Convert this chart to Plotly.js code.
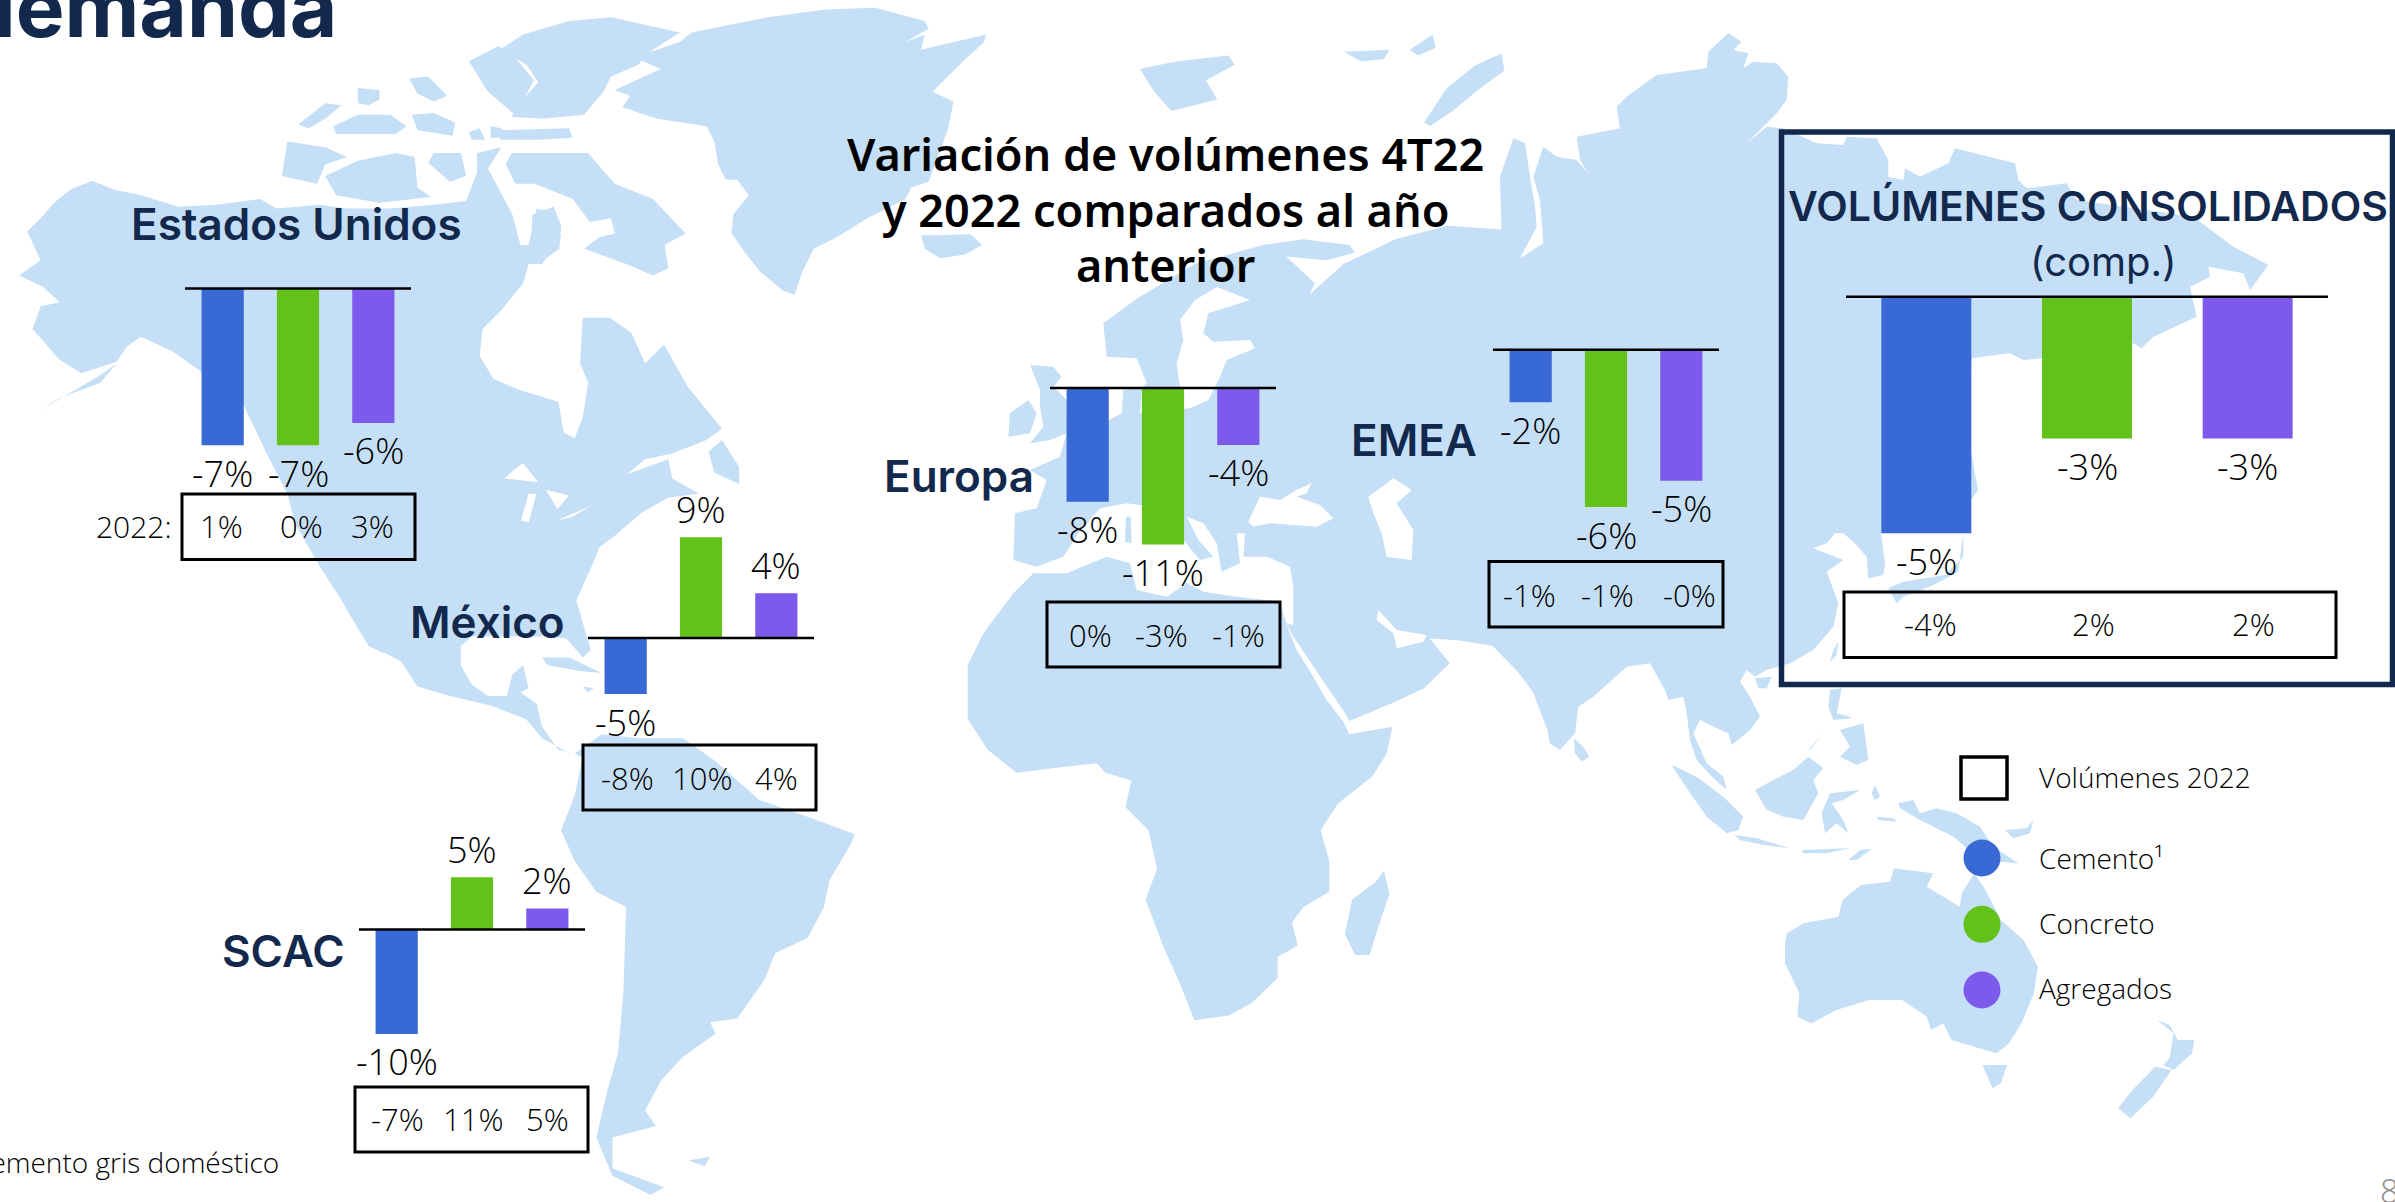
<!DOCTYPE html>
<html><head><meta charset="utf-8">
<script src="https://cdn.plot.ly/plotly-3.0.1.min.js"></script>
<style>html,body{margin:0;padding:0;background:#fff;overflow:hidden}#c{width:2395px;height:1202px}</style>
</head><body><div id="c"></div>
<script>
// ---------- data ----------
const categories = ["Cemento", "Concreto", "Agregados"];
const regionNames = ["Estados Unidos", "México", "SCAC", "Europa", "EMEA"];
const usValues = [-7, -7, -6];
const mexicoValues = [-5, 9, 4];
const scacValues = [-10, 5, 2];
const europeValues = [-8, -11, -4];
const emeaValues = [-2, -6, -5];
const consolidatedValues = [-5, -3, -3];
const us2022 = ["1%", "0%", "3%"];
const mexico2022 = ["-8%", "10%", "4%"];
const scac2022 = ["-7%", "11%", "5%"];
const europe2022 = ["0%", "-3%", "-1%"];
const emea2022 = ["-1%", "-1%", "-0%"];
const consolidated2022 = ["-4%", "2%", "2%"];

// ---------- styles and placement (page pixels) ----------
const W = 2395, H = 1202;
const BLUE = "#3869D4", GREEN = "#62C21A", PURPLE = "#7D5AEC", NAVY = "#12284C", LAND = "#C5DFF6";
const barColors = [BLUE, GREEN, PURPLE];
const LIGHT = "Open Sans", HEAD = "Inter";
const panels = [
  {v: usValues, t: us2022, name: regionNames[0], x0: 185, x1: 411, base: 288.5, k: 22.4, box: [182,494,415,559.5], tx: [221,301,372], ty: 526, nx: 296, ny: 224},
  {v: mexicoValues, t: mexico2022, name: regionNames[1], x0: 588, x1: 814, base: 638, k: 11.2, box: [583,745,816,810], tx: [627,701.5,776], ty: 778, nx: 487, ny: 622},
  {v: scacValues, t: scac2022, name: regionNames[2], x0: 359, x1: 585, base: 929.4, k: 10.45, box: [355,1087,588,1152], tx: [397,473,547.5], ty: 1119, nx: 283.5, ny: 951},
  {v: europeValues, t: europe2022, name: regionNames[3], x0: 1050, x1: 1276, base: 388, k: 14.22, box: [1047,602,1280,667], tx: [1090,1161,1238], ty: 634.5, nx: 959, ny: 476},
  {v: emeaValues, t: emea2022, name: regionNames[4], x0: 1493, x1: 1719, base: 349.8, k: 26.2, box: [1489,561.4,1723,627], tx: [1529,1607,1689], ty: 595, nx: 1414, ny: 440},
  {v: consolidatedValues, t: consolidated2022, name: null, x0: 1846, x1: 2328, base: 296.7, k: 47.3, box: [1844,592,2336,657.6], tx: [1930,2093,2253], ty: 624}
];

// ---------- background map outline, traced by eye; each group is [left, top, scaleX, scaleY, points] ----------
const A=[0,0,.5421,.3827],B=[0,600,.5421,.3839],C=[850,0,.574,.3827],E=[850,600,.574,.3839],F=[1750,700,.4113,.3333],
      G=[1500,0,1/3,1/3],H_=[1900,0,1/3,1/3],I=[1550,500,1/3,1/3],J=[500,0,.3827,.3827],K=[950,300,1/3,1/3],P=[0,0,1,1];
function seg(v,p){const o=[];for(let i=0;i<p.length;i+=2)o.push([v[0]+p[i]*v[2],v[1]+p[i+1]*v[3]]);return o;}
function poly(){const o=[];for(let i=0;i<arguments.length;i+=2)o.push(...seg(arguments[i],arguments[i+1]));return o;}
const land = [
 // North America
 poly(A,[50,605,75,570,100,530,130,495,170,472,210,495,260,510,330,540,400,535,480,520,510,545,590,535,640,545,720,545,800,535,860,525,880,450,880,400,925,385,900,440,930,520,945,560,960,640,975,640,990,545,1025,560,1035,620,1000,690,975,690,965,740,925,810,890,860,885,930,910,990,960,1020,1030,1050,1040,1130,1060,1145,1075,1090,1085,1000,1070,950,1075,830,1125,830,1165,870,1190,950,1225,900],
      J,[490,1010,580,1120,540,1150,450,1185,380,1200,330,1240,440,1200,450,1250,520,1290,440,1300,370,1340,300,1400,260,1430,235,1490,200,1568],
      B,[1063,0,1075,60,1090,130,1075,150,1045,100,1010,95,950,95,870,95,850,120,850,170,870,220,900,250,935,250,945,195,965,170,975,230,960,240,990,270,1000,330,1030,390,1060,400,1045,395,1000,360,970,310,905,275,830,250,770,225,740,160,700,130,660,60,630,0],
      A,[590,1480,545,1370,530,1290,490,1180,450,1060,400,1000,320,920,260,880,235,905,215,945,150,975,110,940,60,860,75,800,110,790,80,750,35,720,75,680]),
 poly(A,[215,950,185,1000,110,1040,70,1075,180,985]),
 poly(B,[630,0,660,0,690,90,710,140,680,120,650,50]),
 // Canadian Arctic
 poly(A,[520,460,530,370,600,385,640,410,600,430,585,480,550,470]),
 poly(A,[600,460,660,420,730,400,765,410,770,490,795,515,700,530,620,510]),
 poly(A,[790,425,800,400,850,400,860,460,830,475]),
 poly(J,[15,430,30,400,230,400,300,480,400,520,485,610,430,640,440,700,400,720,330,690,220,650,260,620,300,610,290,570,235,580,190,520,90,480,40,480]),
 poly(J,[85,560,140,540,160,590,155,650,100,690,80,640]),
 poly(A,[550,325,600,270,630,275,600,310,570,335]),
 poly(A,[615,330,660,300,720,300,750,330,730,350,620,350]),
 poly(A,[660,230,700,235,700,260,680,275,660,270]),
 poly(A,[755,205,790,200,825,250,800,265,770,245]),
 poly(A,[760,300,800,295,840,320,835,355,770,340]),
 poly(A,[865,345,885,335,895,365,870,365]),
 poly(J,[0,130,60,90,180,55,290,45,470,85,400,130,360,170,290,200,270,240,220,300,110,310,30,305,60,260,100,215,70,170]),
 poly(A,[865,160,920,120,950,150,985,210,950,300,900,240]),
 poly(J,[0,340,180,335,190,360,100,365,0,365]),
 poly(A,[905,330,925,335,925,360,905,360]),
 poly(J,[545,1180,580,1150,625,1220,625,1265,560,1235]),
 // Greenland, Iceland, northern islands
 poly(J,[300,235,420,180,350,150,470,110,500,85,700,45,850,25,980,20,1110,55,1120,75,1060,110,1110,90,1100,130,1270,90,1265,110,1200,170,1130,240,1185,265,1170,340,1140,420,1120,475,1075,490,1060,520,960,570,880,620,820,650,790,710,770,770,740,760,680,710,640,660,605,610,610,560,650,510,620,470,590,470,570,430,560,370,540,330,410,310,320,280,340,250]),
 poly(J,[1100,615,1150,615,1230,612,1260,640,1215,665,1150,675,1110,650]),
 poly(C,[505,180,570,160,660,145,670,170,620,210,640,260,560,290,530,240]),
 poly(C,[1000,320,1040,230,1090,170,1135,140,1140,185,1090,240,1050,290,1010,330]),
 poly(C,[860,135,940,130,930,155,890,160]),
 poly(C,[975,130,1015,90,1020,125,990,145]),
 // Eurasia
 poly(C,[441,845,500,780,600,690,720,640,790,625,870,640,880,660,830,680,760,670,810,740,800,770,860,690,950,625,1040,590,1135,600],
      G,[0,530,40,415,75,430,90,530,105,620,110,680,60,775,130,730,120,600,100,530,130,440,170,470,230,480,265,520,240,480,230,410,360,385,350,320,380,290,470,225,620,205,625,155,685,100,725,125,700,150,745,160,730,205,760,185,830,190,865,230,860,300,830,340,795,375,740,430,800,380,850,385,950,430,1030,435,1040,410,1130,415,1165,480,1165,530,1210,540,1215,505,1260,530],
      H_,[145,490,165,445,345,490,355,540,380,565,500,550,530,600,880,650,1000,740,1105,795,1050,870,1030,820,925,800,930,830,870,860,890,950,760,1010,725,1045,700,1030,420,1075,370,1080,330,1060,215,1075],
      P,[1969,440,1978,490,1971,500,1940,532],
      I,[993,95,1005,190,1000,225,955,235,950,170,915,130,880,100,855,100,830,130,790,145,880,180,830,215,865,310,850,380,790,450,720,490,650,510,615,530,590,510,570,545,600,590,630,650,600,690,545,735,535,700,490,680,450,660,430,700,470,790,520,830,530,870,490,835,440,780,420,720,410,640,400,590,355,600,345,570,300,490,230,500,130,590,85,620,75,700,30,750,0,730],
      E,[1215,340,1190,240,1165,190,1120,120,1060,105,1010,100,1045,165,1000,230,950,265,870,315,860,290,815,190,770,90,760,60],
      K,[1030,975,1030,860,1020,800,950,770,880,770,885,700,860,700,870,790,815,815,800,730,760,670,710,650,745,720,790,770,750,780,700,720,610,620,530,610,450,625,385,700,340,770,260,800,190,780,195,640,260,625,290,540,240,510,330,470,350,400,440,380,515,340,520,270,575,265,590,250,560,175,470,170,460,70]),
 // Africa and islands
 poly(K,[250,820,350,820,470,770,540,790,560,870,650,890,710,850,760,875,860,890,990,905,1010,975,1040,1050,1090,1130,1130,1200,1180,1265],
      E,[870,350,945,330,935,400,910,460,850,530,820,600,835,680,835,760,790,800,770,840,780,900,745,930,745,985,700,1050,660,1082,600,1095,575,1000,545,900,515,780,535,700,520,600,480,540,490,470,445,450,430,425,370,435,290,450,240,390,205,310,205,170],
      K,[100,1000,190,880]),
 poly(E,[930,705,940,765,925,830,905,925,880,925,862,870,875,780,915,735]),
 poly(I,[72,715,100,740,118,770,95,785,75,760]),
 poly(K,[240,195,310,200,335,230,310,260,350,300,351,400,300,420,240,430,280,380,270,320,270,270]),
 poly(K,[180,340,235,300,260,340,240,400,175,410]),
 poly(K,[528,650,542,650,545,730,525,725]),
 // Caribbean and South America
 poly(B,[1000,150,1050,150,1110,190,1070,185,1010,170]),
 poly(B,[1075,225,1095,230,1085,240]),
 poly(B,[1060,400,1075,385,1110,350,1180,360,1260,360,1320,420,1400,520,1500,570,1577,610,1568,640,1530,730,1520,800,1490,880,1430,920,1410,990,1360,1090,1310,1100,1320,1130,1260,1190,1220,1250,1190,1330,1210,1370,1130,1400,1130,1480,1225,1530,1200,1550,1130,1500,1100,1400,1120,1280,1140,1180,1150,1020,1155,800,1100,760,1060,680,1035,600,1060,510,1075,410]),
 poly(B,[1270,1460,1310,1450,1300,1475]),
 // Asia-Pacific islands
 poly(I,[1240,95,1240,170,1185,225,1060,245,1015,265,1040,310,1060,290,1150,255,1225,215]),
 poly(I,[850,450,865,425,860,465,840,485]),
 poly(I,[615,535,665,530,650,565,625,565]),
 poly(I,[840,570,875,565,860,640,900,650,905,655,850,660,835,620]),
 poly(I,[870,690,940,670,955,780,920,795,870,770,900,740]),
 poly(I,[775,750,825,695,780,750]),
 poly(I,[615,870,670,840,730,810,775,770,820,805,790,840,805,880,760,960,700,950,650,930]),
 poly(I,[840,880,930,870,880,900,845,910,880,960,895,1000,860,970,825,1000,815,940]),
 poly(I,[965,880,975,855,990,890,975,900]),
 poly(I,[365,795,440,830,520,890,580,950,565,990,530,1000,470,950,400,850]),
 poly(I,[555,1005,620,1015,720,1045,640,1035,570,1020]),
 poly(I,[755,1050,900,1045,830,1060,760,1060]),
 poly(I,[895,1080,930,1050,965,1047,920,1080]),
 poly(I,[980,950,1030,955,1040,965,985,960]),
 poly(I,[1045,910,1090,900,1110,940,1160,925,1220,940,1290,980,1330,1040,1405,1090,1350,1085,1280,1070,1210,1010,1110,960,1050,925]),
 poly(I,[1365,990,1430,985,1450,960,1440,1000,1390,1015]),
 poly(F,[90,700,130,670,215,650,225,600,270,555,340,545,350,505,445,520,430,560,510,620,515,580,545,520,570,565,610,660,665,720,700,800,690,880,660,970,630,1030,600,1060,545,1040,490,1020,470,970,440,990,430,950,370,900,290,900,210,930,150,970,115,950,120,880,85,790,85,730]),
 poly(F,[565,1095,625,1095,610,1150,590,1165]),
 poly(F,[990,960,1020,975,1040,1020,1080,1020,1075,1060,1030,1110,1005,1095,1020,1075,1030,1000]),
 poly(F,[985,1100,1025,1110,980,1190,925,1255,895,1225,930,1170])
];
const water = [
 poly(K,[590,262,690,262,680,190,700,120,690,60,735,0],P,[1217,287,1250,300],K,[775,40,760,100,790,125,900,120,915,145,830,180,810,230,775,300,720,325,570,340,575,270]),
 poly(K,[895,665,930,590,990,600,1040,570,1085,550,1070,580,1040,590,1110,615,1150,655,1100,680,960,670,910,680]),
 poly(K,[1255,590,1330,535,1385,570,1340,610,1390,690,1385,780,1310,770,1295,700,1270,640]),
 poly(K,[1285,930,1340,990,1430,1005,1420,1025,1340,1045,1330,1000,1280,960]),
 poly(J,[55,1360,75,1290,95,1290,75,1365]),
 poly(J,[120,1280,180,1295,150,1330]),
 poly(J,[150,1360,240,1320,190,1350]),
 poly(J,[10,1250,60,1210,100,1260])
];
function flatten(list){const x=[],y=[];list.forEach(p=>{p.forEach(q=>{x.push(q[0]);y.push(q[1]);});x.push(p[0][0],null);y.push(p[0][1],null);});return {x,y};}
const landXY = flatten(land), waterXY = flatten(water);

// ---------- build figure ----------
const traces = [
 {type:"scatter",mode:"none",x:landXY.x,y:landXY.y,fill:"toself",fillcolor:LAND,hoverinfo:"skip",xaxis:"x",yaxis:"y",showlegend:false},
 {type:"scatter",mode:"none",x:waterXY.x,y:waterXY.y,fill:"toself",fillcolor:"#FFFFFF",hoverinfo:"skip",xaxis:"x",yaxis:"y",showlegend:false}
];
const layout = {
 width:W,height:H,margin:{l:0,r:0,t:0,b:0},paper_bgcolor:"#fff",plot_bgcolor:"rgba(0,0,0,0)",showlegend:false,bargap:.44,
 xaxis:{domain:[0,1],range:[0,W],visible:false,fixedrange:true},
 yaxis:{domain:[0,1],range:[H,0],visible:false,fixedrange:true},
 shapes:[],annotations:[],font:{family:LIGHT,color:"#000"}
};
function txt(x,y,text,size,o){o=o||{};layout.annotations.push({xref:"paper",yref:"paper",x:x/W,y:1-y/H,text,showarrow:false,xanchor:o.anchor||"center",yanchor:"middle",align:o.align||"center",
  font:{family:o.family||LIGHT,size,color:o.color||"#000",weight:o.weight||300}});}
function rect(b,w,color){layout.shapes.push({type:"rect",xref:"paper",yref:"paper",x0:b[0]/W,x1:b[2]/W,y0:1-b[1]/H,y1:1-b[3]/H,line:{color,width:w},fillcolor:"rgba(0,0,0,0)"});}

panels.forEach((p,i)=>{
  const n=i+2;
  const hi=Math.max(0,...p.v)+.5, lo=Math.min(0,...p.v)-.5;
  traces.push({type:"bar",x:categories,y:p.v,marker:{color:barColors,line:{width:0}},xaxis:"x"+n,yaxis:"y"+n,hoverinfo:"x+y",showlegend:false});
  layout["xaxis"+n]={domain:[p.x0/W,p.x1/W],anchor:"y"+n,type:"category",categoryorder:"array",categoryarray:categories,range:[-.5,2.5],visible:false,fixedrange:true};
  layout["yaxis"+n]={domain:[1-(p.base-lo*p.k)/H,1-(p.base-hi*p.k)/H],anchor:"x"+n,range:[lo,hi],visible:false,fixedrange:true};
  layout.shapes.push({type:"line",xref:"x"+n+" domain",x0:0,x1:1,yref:"y"+n,y0:0,y1:0,line:{color:"#000",width:2.5}});
  p.v.forEach((v,j)=>{
    layout.annotations.push({xref:"x"+n,yref:"y"+n,x:categories[j],y:v,text:v+"%",showarrow:false,xanchor:"center",yanchor:"middle",yshift:v<0?-28:28,font:{family:LIGHT,size:36,color:"#000",weight:300}});
    txt(p.tx[j],p.ty,p.t[j],31);
  });
  rect(p.box,3,"#000");
  if(p.name) txt(p.nx,p.ny,p.name,44,{family:HEAD,weight:600,color:NAVY});
});

// page texts
txt(339,8,"demanda",82,{family:HEAD,weight:700,color:NAVY,anchor:"right"});
txt(1165,153,"Variación de volúmenes 4T22",45,{family:"Noto Sans",weight:600});
txt(1165,209,"y 2022 comparados al año",45,{family:"Noto Sans",weight:600});
txt(1165,264,"anterior",45,{family:"Noto Sans",weight:600});
txt(2088,206,"VOLÚMENES CONSOLIDADOS",41,{family:HEAD,weight:600,color:NAVY});
txt(2103,261,"(comp.)",40,{family:HEAD,weight:400,color:NAVY});
txt(134,526,"2022:",30);
txt(281,1162,"Cemento gris doméstico",28,{anchor:"right"});
txt(2378,1190,"8",33,{anchor:"left",color:"#8A8A8A"});

// framed panel and legend
rect([1781.5,132,2392.5,684.5],5.5,NAVY);
rect([1961,757,2007,799],3.5,"#000");
const legendLabels = ["Volúmenes 2022","Cemento¹","Concreto","Agregados"];
[776.7,858,923,988].forEach((y,i)=>txt(2037,y,legendLabels[i],28,{anchor:"left"}));
traces.push({type:"scatter",mode:"markers",x:[1982,1982,1982],y:[858,924.3,990],marker:{size:37,color:barColors,line:{width:0}},hoverinfo:"skip",xaxis:"x",yaxis:"y",showlegend:false});

Plotly.newPlot("c",traces,layout,{displayModeBar:false,staticPlot:true});
</script></body></html>
